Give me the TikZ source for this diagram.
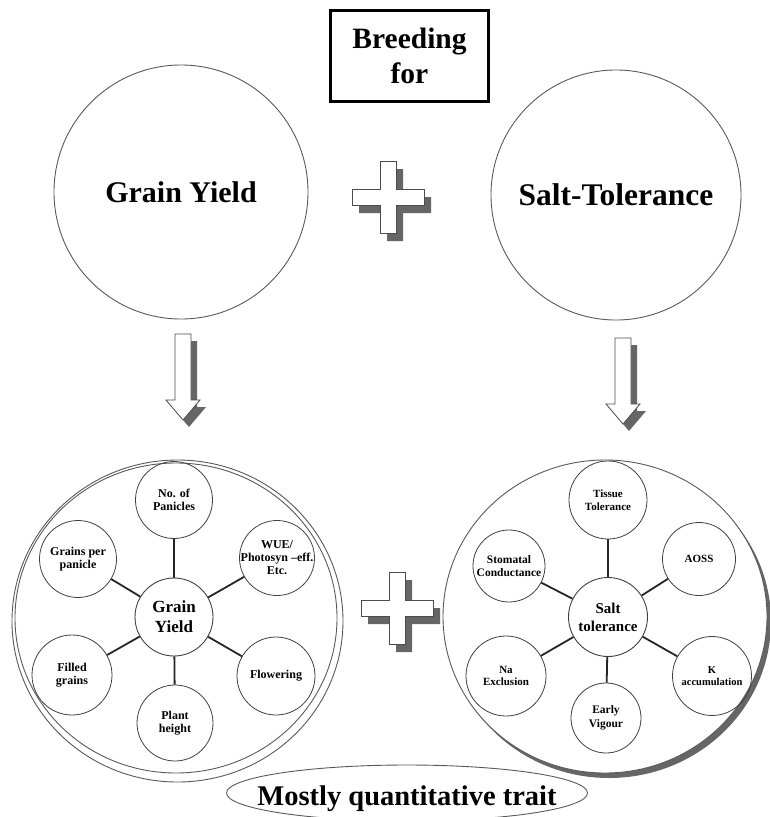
\documentclass[tikz,border=0pt]{standalone}
\usepackage{fontspec}
\setmainfont{Liberation Serif}
\usetikzlibrary{shapes.geometric}

\begin{document}
\begin{tikzpicture}[
    x=1pt, y=-1pt,
    titlebox/.style={rectangle, draw, line width=2.5pt, minimum width=158pt,
                     minimum height=91pt, align=center, font=\fontsize{29.5}{35}\selectfont\bfseries},
    bigcircle/.style={circle, draw=black!65, line width=0.9pt, minimum size=254pt,
                      inner sep=0pt, font=\fontsize{30}{34}\selectfont\bfseries},
    ring/.style={ellipse, draw=black!65, line width=0.9pt, inner sep=0pt},
    hub/.style={circle, draw=black!75, line width=0.9pt, minimum size=78pt, inner sep=0pt,
                align=center, font=\fontsize{17}{20}\selectfont\bfseries},
    trait/.style={circle, draw=black!75, line width=0.8pt, minimum size=77pt,
                  inner sep=0pt, align=center, font=\fontsize{12}{13.5}\selectfont\bfseries},
    spoke/.style={line width=1.8pt, black!85},
    banner/.style={ellipse, draw=black!65, line width=0.9pt, minimum width=361pt,
                   minimum height=56pt, inner sep=0pt},
    plusshape/.pic={
        \fill[black!60, shift={(7,8)}] (-36,-8) -- (-8,-8) -- (-8,-36) -- (8,-36) -- (8,-8)
            -- (36,-8) -- (36,8) -- (8,8) -- (8,36) -- (-8,36) -- (-8,8) -- (-36,8) -- cycle;
        \draw[black!70, line width=0.8pt, fill=white] (-36,-8) -- (-8,-8) -- (-8,-36) -- (8,-36)
            -- (8,-8) -- (36,-8) -- (36,8) -- (8,8) -- (8,36) -- (-8,36) -- (-8,8) -- (-36,8) -- cycle;
    },
    downarrow/.pic={
        \fill[black!60, shift={(6,7)}] (-8,0) -- (8,0) -- (8,66) -- (17,66) -- (0,86)
            -- (-17,66) -- (-8,66) -- cycle;
        \draw[black!70, line width=0.8pt, fill=white] (-8,0) -- (8,0) -- (8,66) -- (17,66)
            -- (0,86) -- (-17,66) -- (-8,66) -- cycle;
    },
]
    \useasboundingbox (0,0) rectangle (769,817);

    % Top row
    \node[titlebox] (breeding) at (409.5,56) {Breeding\\for};
    \node[bigcircle] (yieldtop) at (181,192) {Grain Yield};
    \node[bigcircle, minimum size=250pt, font=\fontsize{31.5}{34}\selectfont\bfseries]
        (salttop) at (616,195) {Salt-Tolerance};
    \pic (plustop) at (388,197) {plusshape};

    % Arrows down
    \pic (arrowleft) at (183,334) {downarrow};
    \pic (arrowright) at (623,338) {downarrow};

    % Grain yield components
    \node[ring, minimum width=331pt, minimum height=322pt] (yieldring) at (177.5,621) {};
    \node[ring, minimum width=322pt, minimum height=310pt] (yieldring2) at (176,618) {};
    \node[hub] (yieldhub) at (174,617) {Grain\\Yield};
    \node[trait] (panicles) at (174,500) {No. of\\Panicles};
    \node[trait] (grains) at (78,559) {Grains per\\panicle};
    \node[trait, minimum size=75pt, inner sep=-2pt, font=\fontsize{12}{13}\selectfont\bfseries]
        (wue) at (277,558) {WUE/\\Photosyn --eff.\\Etc.};
    \node[trait, minimum size=80pt] (filled) at (72,675) {Filled\\grains};
    \node[trait, minimum size=76pt] (height) at (175,723) {Plant\\height};
    \node[trait, minimum size=78pt] (flowering) at (276,676) {Flowering};

    \draw[spoke] (yieldhub) -- (panicles);
    \draw[spoke] (yieldhub) -- (grains);
    \draw[spoke] (yieldhub) -- (wue);
    \draw[spoke] (yieldhub) -- (filled);
    \draw[spoke] (yieldhub) -- (height);
    \draw[spoke] (yieldhub) -- (flowering);

    % Middle plus
    \pic (plusbottom) at (397,608) {plusshape};

    % Salt tolerance components
    \node[ring, draw=none, fill=black!60, minimum width=324pt, minimum height=313pt]
        (saltshadow) at (609,621.5) {};
    \node[ring, fill=white, minimum width=324pt, minimum height=313pt] (saltring) at (605,616.5) {};
    \node[hub, minimum size=79pt, font=\fontsize{15}{18}\selectfont\bfseries]
        (salthub) at (608,617) {Salt\\tolerance};
    \node[trait, minimum size=78pt, font=\fontsize{11}{12.5}\selectfont\bfseries]
        (tissue) at (608,500) {Tissue\\Tolerance};
    \node[trait, minimum size=73pt, font=\fontsize{11}{12.5}\selectfont\bfseries]
        (aoss) at (699,559) {AOSS};
    \node[trait, minimum size=72pt, font=\fontsize{11.5}{13.5}\selectfont\bfseries]
        (stomatal) at (509,566) {Stomatal\\Conductance};
    \node[trait, minimum size=80pt, font=\fontsize{11}{12.5}\selectfont\bfseries]
        (naexcl) at (506,676) {Na\\Exclusion};
    \node[trait, minimum size=70pt, font=\fontsize{11.5}{13.5}\selectfont\bfseries]
        (vigour) at (606,718) {Early\\Vigour};
    \node[trait, minimum size=79pt, font=\fontsize{10.5}{12.5}\selectfont\bfseries]
        (kaccum) at (712,676) {K\\accumulation};

    \draw[spoke] (salthub) -- (tissue);
    \draw[spoke] (salthub) -- (aoss);
    \draw[spoke] (salthub) -- (stomatal);
    \draw[spoke] (salthub) -- (naexcl);
    \draw[spoke] (salthub) -- (vigour);
    \draw[spoke] (salthub) -- (kaccum);

    % Bottom label
    \node[banner, label={[font=\fontsize{28.5}{32}\selectfont\bfseries, yshift=-6pt]center:Mostly quantitative trait}]
        (quant) at (407,793) {};
\end{tikzpicture}
\end{document}
